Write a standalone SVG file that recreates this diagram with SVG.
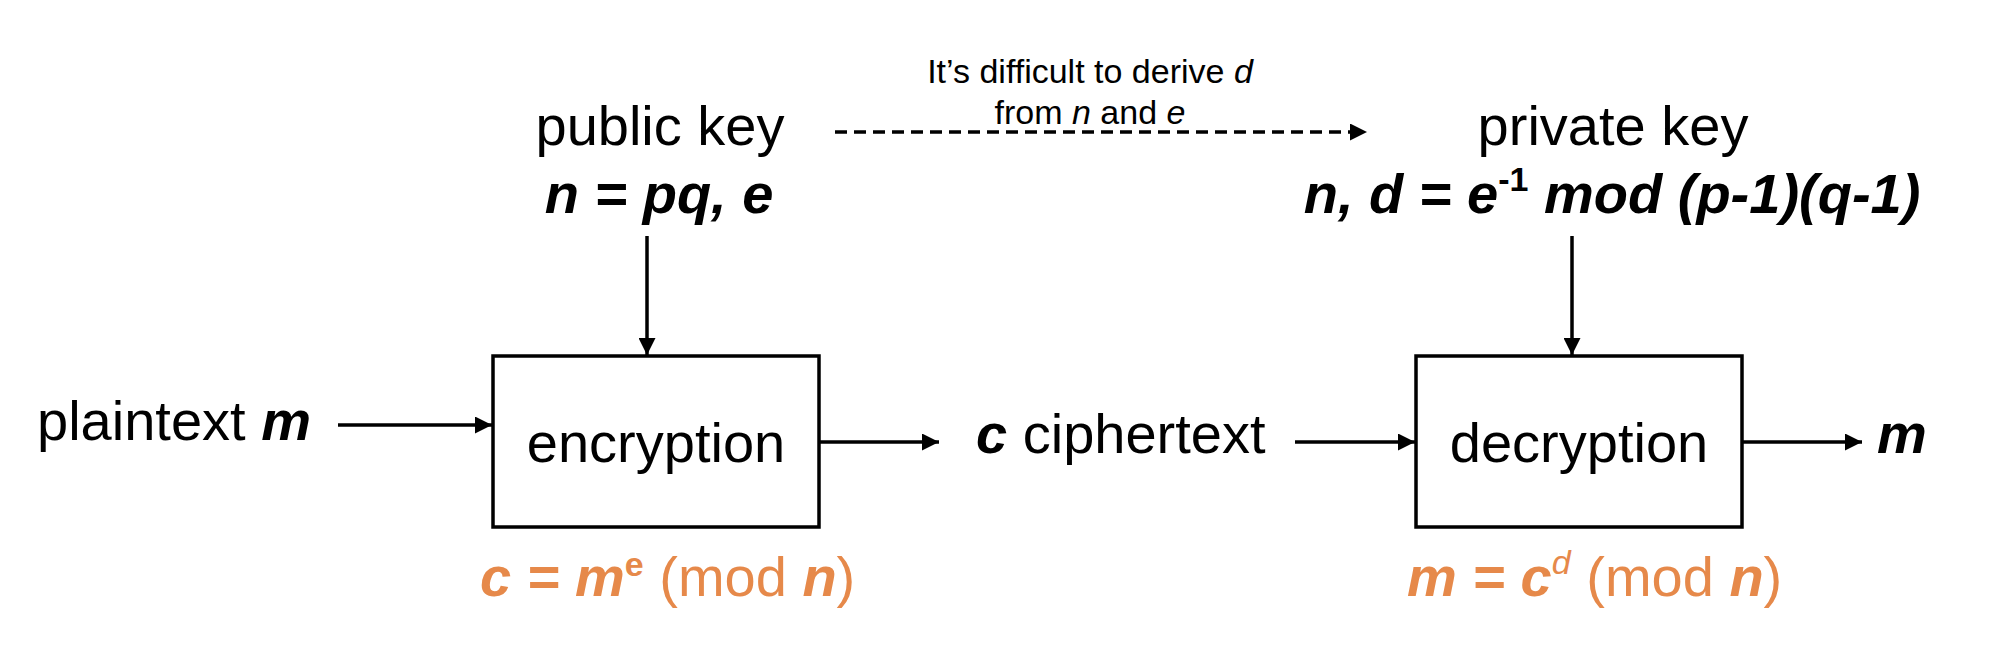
<svg xmlns="http://www.w3.org/2000/svg" width="2008" height="670" viewBox="0 0 2008 670">
  <style>
    text { font-family: "Liberation Sans", Arial, sans-serif; fill: #000; }
    .lg { font-size: 56px; }
    .sm { font-size: 34px; }
    .bi { font-weight: bold; font-style: italic; }
    .it { font-style: italic; }
    .or { fill: #E6894A; }
    .box { fill: #fff; stroke: #000; stroke-width: 3.5; }
    .ln { stroke: #000; stroke-width: 3.5; fill: none; }
    .dash { stroke: #000; stroke-width: 3.5; fill: none; stroke-dasharray: 12 7; }
  </style>
  <defs>
    <marker id="ah" viewBox="0 0 10 10" refX="10" refY="5" markerWidth="18" markerHeight="17" markerUnits="userSpaceOnUse" orient="auto">
      <path d="M0,0 L10,5 L0,10 z" fill="#000"/>
    </marker>
  </defs>

  <g id="connectors">
    <line class="dash" x1="835" y1="132" x2="1367" y2="132" marker-end="url(#ah)"/>
    <line class="ln" x1="647" y1="236" x2="647" y2="355" marker-end="url(#ah)"/>
    <line class="ln" x1="1572" y1="236" x2="1572" y2="355" marker-end="url(#ah)"/>
    <line class="ln" x1="338" y1="425" x2="492" y2="425" marker-end="url(#ah)"/>
    <line class="ln" x1="819" y1="442" x2="939" y2="442" marker-end="url(#ah)"/>
    <line class="ln" x1="1295" y1="442" x2="1415" y2="442" marker-end="url(#ah)"/>
    <line class="ln" x1="1742" y1="442" x2="1862" y2="442" marker-end="url(#ah)"/>
  </g>

  <g id="note">
    <text class="sm" x="1090" y="83" text-anchor="middle">It’s difficult to derive <tspan class="it">d</tspan></text>
    <text class="sm" x="1090" y="124" text-anchor="middle">from <tspan class="it">n</tspan> and <tspan class="it">e</tspan></text>
  </g>

  <g id="public-key">
    <text class="lg" x="660" y="145" text-anchor="middle">public key</text>
    <text class="lg bi" x="659" y="213" text-anchor="middle">n = pq, e</text>
  </g>

  <g id="private-key">
    <text class="lg" x="1613" y="145" text-anchor="middle">private key</text>
    <text class="lg bi" x="1612" y="213" text-anchor="middle">n, d = e<tspan font-size="34" font-style="normal" dy="-22">-1</tspan><tspan dy="22"> mod (p-1)(q-1)</tspan></text>
  </g>

  <g id="plaintext">
    <text class="lg" x="37" y="440">plaintext <tspan class="bi">m</tspan></text>
  </g>

  <g id="encryption">
    <rect class="box" x="493" y="356" width="326" height="171"/>
    <text class="lg" x="656" y="462" text-anchor="middle">encryption</text>
  </g>

  <g id="ciphertext">
    <text class="lg" x="976" y="453"><tspan class="bi">c</tspan> ciphertext</text>
  </g>

  <g id="decryption">
    <rect class="box" x="1416" y="356" width="326" height="171"/>
    <text class="lg" x="1579" y="462" text-anchor="middle">decryption</text>
  </g>

  <g id="output-m">
    <text class="lg bi" x="1877" y="453">m</text>
  </g>

  <g id="enc-formula">
    <text class="lg or" x="480" y="596"><tspan class="bi">c = m</tspan><tspan font-size="34" font-weight="bold" dy="-20">e</tspan><tspan dy="20"> (mod </tspan><tspan class="bi">n</tspan>)</text>
  </g>

  <g id="dec-formula">
    <text class="lg or" x="1407" y="596"><tspan class="bi">m = c</tspan><tspan font-size="34" font-style="italic" dy="-22">d</tspan><tspan dy="22"> (mod </tspan><tspan class="bi">n</tspan>)</text>
  </g>
</svg>
